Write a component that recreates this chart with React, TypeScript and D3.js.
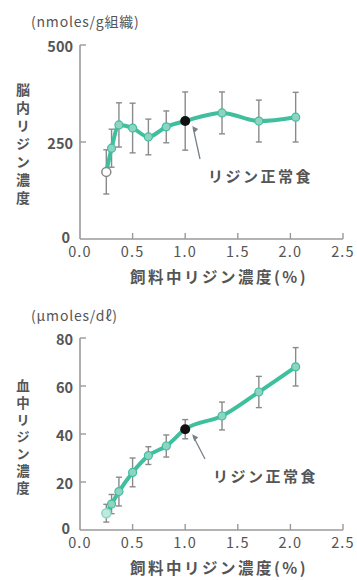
import React from "react";
import * as d3 from "d3";

// Dietary lysine content (%) for each diet group
const dietLysine = [0.25, 0.3, 0.37, 0.5, 0.65, 0.82, 1.0, 1.35, 1.7, 2.05];

// Brain lysine (nmoles/g tissue): mean and error
const brainMean = [173, 234, 294, 286, 263, 289, 304, 325, 304, 314];
const brainErr = [57, 49, 57, 64, 46, 41, 75, 54, 54, 64];

// Plasma lysine (μmoles/dl): mean and error
const plasmaMean = [7, 10.8, 16, 24, 31, 35, 42, 47.5, 57.5, 68];
const plasmaErr = [3.7, 4, 6, 6, 3.7, 4.6, 4, 5.8, 6.5, 8];

const xTicks = [0, 0.5, 1.0, 1.5, 2.0, 2.5];
const brainTicks = [0, 250, 500];
const plasmaTicks = [0, 20, 40, 60, 80];

const normalIndex = 6; // 1.0% is the normal lysine diet

const FONT = "'Noto Sans CJK JP', 'Noto Sans', sans-serif";
const TEXT = "#555";
const AXIS = "#9a9a9a";
const LINE = "#3fbf9d";

type PanelProps = {
  top: number;
  bottom: number;
  yMax: number;
  yTicks: number[];
  mean: number[];
  err: number[];
  unit: string;
  unitY: number;
  yTitle: string;
  yTitleTop: number;
  yTitleGap: number;
  yTitleSize: number;
  label: { x: number; y: number };
  firstOpen: "white" | "light";
};

const Panel: React.FC<PanelProps> = (p) => {
  const x = d3.scaleLinear().domain([0, 2.5]).range([80, 343]);
  const y = d3.scaleLinear().domain([0, p.yMax]).range([p.bottom, p.top]);
  const line = d3
    .line<number>()
    .x((_, i) => x(dietLysine[i]))
    .y((d) => y(d))
    .curve(d3.curveMonotoneX);
  const nx = x(dietLysine[normalIndex]);
  const ny = y(p.mean[normalIndex]);
  const ax = nx + 8;
  const ay = ny + 7;

  return (
    <g fontFamily={FONT}>
      {/* unit */}
      <text x={31} y={p.unitY} fontSize={14} fill={TEXT} letterSpacing={0.8}>
        {p.unit}
      </text>
      {/* y title, set vertically */}
      <text
        x={23}
        y={p.yTitleTop}
        fontSize={p.yTitleSize}
        fontWeight="bold"
        fill={TEXT}
        letterSpacing={p.yTitleGap}
        style={{ writingMode: "vertical-rl" }}
      >
        {p.yTitle}
      </text>
      {/* axes */}
      <line x1={x(0)} x2={x(0)} y1={y(0)} y2={y(p.yMax)} stroke={AXIS} strokeWidth={1.6} />
      <line x1={x(0)} x2={x(2.5)} y1={y(0)} y2={y(0)} stroke={AXIS} strokeWidth={1.6} />
      {p.yTicks.map((t) => (
        <g key={"y" + t}>
          {t > 0 && (
            <line x1={x(0)} x2={x(0) + 6} y1={y(t)} y2={y(t)} stroke={AXIS} strokeWidth={1.4} />
          )}
          <text
            x={t === 0 ? 70 : 73}
            y={t === 0 ? y(t) - 3 : y(t)}
            fontSize={14.5}
            fontWeight="bold"
            fill={TEXT}
            textAnchor="end"
            dominantBaseline="central"
          >
            {t}
          </text>
        </g>
      ))}
      {xTicks.map((t) => (
        <g key={"x" + t}>
          {t > 0 && (
            <line x1={x(t)} x2={x(t)} y1={y(0)} y2={y(0) - 6} stroke={AXIS} strokeWidth={1.4} />
          )}
          <text
            x={x(t)}
            y={y(0) + 11}
            fontSize={14.5}
            fill={TEXT}
            textAnchor="middle"
            dominantBaseline="central"
            letterSpacing={1.2}
          >
            {t.toFixed(1)}
          </text>
        </g>
      ))}
      <text
        x={219}
        y={y(0) + 37}
        fontSize={15.5}
        fontWeight="bold"
        fill={TEXT}
        textAnchor="middle"
        dominantBaseline="central"
        letterSpacing={2.5}
      >
        飼料中リジン濃度(%)
      </text>
      {/* error bars */}
      {p.mean.map((m, i) => {
        const cx = x(dietLysine[i]);
        const y1 = y(m + p.err[i]);
        const y2 = y(m - p.err[i]);
        return (
          <g key={"e" + i} stroke="#8a8a8a" strokeWidth={1.4}>
            <line x1={cx} x2={cx} y1={y1} y2={y2} />
            <line x1={cx - 3} x2={cx + 3} y1={y1} y2={y1} />
            <line x1={cx - 3} x2={cx + 3} y1={y2} y2={y2} />
          </g>
        );
      })}
      {/* series line */}
      <path d={line(p.mean) ?? ""} fill="none" stroke={LINE} strokeWidth={4} strokeLinejoin="round" />
      {p.mean.map((m, i) => {
        const cx = x(dietLysine[i]);
        const cy = y(m);
        if (i === normalIndex) {
          return <circle key={"m" + i} cx={cx} cy={cy} r={5} fill="#111" />;
        }
        if (i === 0) {
          return (
            <circle
              key={"m" + i}
              cx={cx}
              cy={cy}
              r={4.5}
              fill={p.firstOpen === "white" ? "#fff" : "#bfe9df"}
              stroke={p.firstOpen === "white" ? "#888" : "#8fd6c4"}
              strokeWidth={1.5}
            />
          );
        }
        return (
          <circle key={"m" + i} cx={cx} cy={cy} r={4} fill="#8fd3c2" stroke={LINE} strokeWidth={1.2} />
        );
      })}
      {/* normal diet annotation */}
      <line x1={ax} y1={ay} x2={p.label.x - 8} y2={p.label.y - 16} stroke="#7a8088" strokeWidth={1.3} />
      <path d={`M${ax - 1},${ay - 2} l2,7 l4,-4 z`} fill="#7a8088" />
      <text
        x={p.label.x}
        y={p.label.y}
        fontSize={15}
        fontWeight="bold"
        fill={TEXT}
        dominantBaseline="central"
        letterSpacing={2.5}
      >
        リジン正常食
      </text>
    </g>
  );
};

export default function App() {
  return (
    <svg
      width={357}
      height={580}
      style={{ position: "absolute", left: 0, top: 0, background: "#fff" }}
    >
      <rect width={357} height={580} fill="#fff" />
      <Panel
        top={45}
        bottom={239}
        yMax={500}
        yTicks={brainTicks}
        mean={brainMean}
        err={brainErr}
        unit="(nmoles/g組織)"
        unitY={27}
        yTitle="脳内リジン濃度"
        yTitleTop={83}
        yTitleGap={4}
        yTitleSize={14}
        label={{ x: 208, y: 175 }}
        firstOpen="white"
      />
      <Panel
        top={338}
        bottom={530}
        yMax={80}
        yTicks={plasmaTicks}
        mean={plasmaMean}
        err={plasmaErr}
        unit="(μmoles/dℓ)"
        unitY={321}
        yTitle="血中リジン濃度"
        yTitleTop={379}
        yTitleGap={3.5}
        yTitleSize={13.5}
        label={{ x: 213, y: 475 }}
        firstOpen="light"
      />
    </svg>
  );
}
